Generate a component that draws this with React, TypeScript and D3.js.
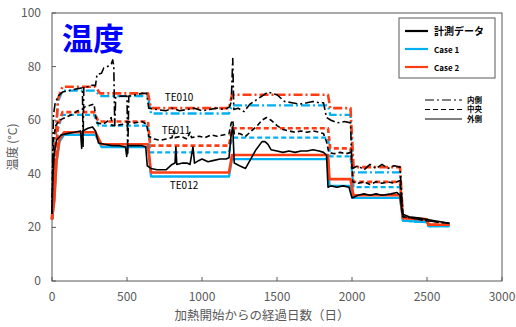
import React, { useEffect, useRef } from 'react';
import * as d3 from 'd3';

type Pt = [number, number];

// 計測データ (black): [day, temp]
const measInner: Pt[] = [[0,25],[5,50],[10,62],[20,66],[40,69],[70,70.5],[110,71],[150,71.5],[195,72],[203,72],[207,50],[212,72.5],[240,72.5],[260,73],[290,73],[300,77],[330,77.5],[345,79.5],[370,80],[395,81],[405,82.5],[412,80],[418,58],[425,68.5],[460,69],[500,69],[505,47],[512,69],[560,69.5],[600,70],[630,70],[645,64.5],[700,64],[760,63.5],[800,64.5],[850,63.5],[900,64],[950,64.5],[1000,63.5],[1050,64],[1100,64.5],[1150,64],[1185,65],[1195,67],[1205,83],[1212,64],[1240,64.5],[1280,63.2],[1320,66],[1360,67.5],[1400,69],[1440,70.5],[1470,70],[1500,69.5],[1550,67],[1600,66.5],[1650,66],[1700,66.5],[1740,67],[1780,66.5],[1810,66.5],[1830,61],[1860,60],[1900,59],[1950,59.5],[1990,59],[2000,42],[2040,43],[2080,41.5],[2120,43.5],[2160,42],[2200,43.5],[2240,42],[2280,43],[2320,42.5],[2340,24],[2400,23.5],[2500,22.5],[2650,21.5]];
const measMiddle: Pt[] = [[0,25],[5,45],[12,54],[25,58],[50,60],[90,61],[130,62],[170,63.5],[200,64],[220,65],[250,65.5],[280,66],[290,62],[300,59],[340,58.5],[380,60],[395,61],[400,58],[430,58],[470,58.5],[500,59.5],[550,59],[600,59.5],[630,58.5],[645,54],[680,53],[720,52.5],[760,53],[800,53.5],[810,56],[820,53.5],[860,54],[900,53],[920,55.5],[930,53.5],[980,54],[1020,53.5],[1060,54.5],[1100,54],[1140,54.5],[1180,55],[1195,59],[1205,60],[1215,55],[1250,55],[1290,54],[1330,56],[1370,58],[1400,60],[1430,61],[1460,60],[1500,58],[1540,56.5],[1580,56],[1620,55.5],[1660,56],[1700,55.5],[1740,56],[1780,55.5],[1810,55],[1830,52],[1845,48],[1880,47.5],[1920,48],[1960,47.5],[1995,48],[2005,37],[2040,36.5],[2080,37],[2120,36],[2160,37],[2200,36.5],[2240,37],[2280,36.5],[2320,37.5],[2340,24],[2400,23.5],[2500,22.5],[2650,21.5]];
const measOuter: Pt[] = [[0,25],[5,38],[15,48],[30,52.5],[60,54.5],[100,55],[150,55.5],[190,56],[198,49.5],[205,56],[240,57],[270,57.5],[290,56],[310,51.5],[350,51],[400,50.5],[450,50.5],[490,50],[498,46.5],[505,50.5],[550,50.5],[600,50.5],[625,50],[635,43],[660,42],[700,41.5],[760,41.5],[800,43.5],[820,44],[826,50],[832,43.5],[870,44],[900,44],[920,43.5],[940,50],[950,44],[980,45],[1000,45.5],[1040,44.5],[1080,45],[1120,45.5],[1160,45.5],[1180,46],[1195,55],[1205,57.5],[1215,44],[1250,43],[1290,42],[1320,45],[1360,49],[1400,52],[1420,52],[1440,51],[1460,49],[1500,48.5],[1540,48],[1580,48.5],[1620,48],[1660,48.5],[1700,48.5],[1740,49],[1780,48.5],[1810,48],[1830,47],[1840,35],[1860,35.5],[1900,35],[1940,35.5],[1980,35],[2000,31],[2040,32],[2080,32.5],[2120,32],[2160,32.5],[2200,32],[2260,32.5],[2300,33],[2320,32],[2335,25],[2380,24],[2450,23.5],[2550,22.5],[2650,21.5]];

// Case 1 (blue)
const case1Inner: Pt[] = [[0,23],[20,50],[40,67],[70,71],[290,71],[320,69],[640,69],[660,62.5],[1180,62.5],[1200,65.5],[1840,65.5],[1855,62],[1990,62],[2010,40.5],[2320,40.5],[2340,22.5],[2500,22],[2510,20.5],[2650,20.5]];
const case1Middle: Pt[] = [[0,23],[20,44],[40,57],[70,62],[280,62],[310,58],[640,58],[655,48],[1180,48],[1200,53.5],[1840,53.5],[1855,46.5],[1990,46.5],[2010,35],[2320,35],[2340,22.5],[2500,22],[2510,20.5],[2650,20.5]];
const case1Outer: Pt[] = [[0,23],[15,30],[30,44],[50,52],[80,54.5],[290,54.5],[330,50],[640,50],[660,39],[1180,39],[1200,45.5],[1840,45.5],[1850,35.5],[1990,35.5],[2010,31],[2320,31],[2340,22.5],[2500,22],[2510,20.5],[2650,20.5]];

// Case 2 (red)
const case2Inner: Pt[] = [[0,23],[20,50],[40,68],[70,72.5],[290,72.5],[320,70],[640,70],[660,64.5],[1180,64.5],[1200,69.5],[1840,69.5],[1855,64.5],[1990,64.5],[2010,42.5],[2320,42.5],[2340,23.5],[2500,23],[2510,21],[2650,21]];
const case2Middle: Pt[] = [[0,23],[20,45],[40,58],[70,63],[280,63],[310,59.5],[640,59.5],[655,50.5],[1180,50.5],[1200,57],[1840,57],[1855,49.5],[1990,49.5],[2010,37],[2320,37],[2340,23.5],[2500,23],[2510,21],[2650,21]];
const case2Outer: Pt[] = [[0,23],[15,30],[30,45],[50,53],[80,55.5],[290,55.5],[330,51],[640,51],[660,40.5],[1180,40.5],[1200,47],[1840,47],[1850,38],[1990,38],[2010,32],[2320,32],[2340,23.5],[2500,23],[2510,21],[2650,21]];

const xTicks = [0, 500, 1000, 1500, 2000, 2500, 3000];
const yTicks = [0, 20, 40, 60, 80, 100];
const posLabels = ['内側', '中央', '外側'];
const caseLabels = ['計測データ', 'Case 1', 'Case 2'];
const sensorLabels = ['TE010', 'TE011', 'TE012'];

const W = 516;
const H = 327;
const FONT = '"Noto Sans CJK JP", "Noto Sans", sans-serif';
const BLUE = '#00b0f0';
const RED = '#ff3d14';
const GRAY = '#595959';
const DASH: { [k: string]: string | null } = { '内側': '9,3,2,3', '中央': '5,3', '外側': null };

export default function App() {
  const ref = useRef<SVGSVGElement>(null);

  useEffect(() => {
    const svg = d3.select(ref.current);
    svg.selectAll('*').remove();

    const x = d3.scaleLinear().domain([0, 3000]).range([52, 502]);
    const y = d3.scaleLinear().domain([0, 100]).range([281, 13]);
    const line = d3.line<Pt>().x(d => x(d[0])).y(d => y(d[1]));

    svg.append('rect').attr('width', W).attr('height', H).attr('fill', 'white');

    // frame
    svg.append('rect')
      .attr('x', x(0)).attr('y', y(100))
      .attr('width', x(3000) - x(0)).attr('height', y(0) - y(100))
      .attr('fill', 'none').attr('stroke', '#595959').attr('stroke-width', 1);

    // ticks
    svg.selectAll('.xt').data(xTicks).enter().append('line')
      .attr('x1', d => x(d)).attr('x2', d => x(d))
      .attr('y1', y(0)).attr('y2', y(0) - 4)
      .attr('stroke', '#595959');
    svg.selectAll('.yt').data(yTicks).enter().append('line')
      .attr('x1', x(0)).attr('x2', x(0) + 4)
      .attr('y1', d => y(d)).attr('y2', d => y(d))
      .attr('stroke', '#595959');

    svg.selectAll('.xl').data(xTicks).enter().append('text')
      .text(d => d)
      .attr('x', d => x(d)).attr('y', y(0) + 20)
      .attr('text-anchor', 'middle')
      .attr('font-family', FONT).attr('font-size', 12).attr('fill', GRAY);
    svg.selectAll('.yl').data(yTicks).enter().append('text')
      .text(d => d)
      .attr('x', x(0) - 11).attr('y', d => y(d) + 4)
      .attr('text-anchor', 'end')
      .attr('font-family', FONT).attr('font-size', 12).attr('fill', GRAY);

    svg.append('text')
      .text('加熱開始からの経過日数（日）')
      .attr('x', 262).attr('y', 320)
      .attr('text-anchor', 'middle')
      .attr('font-family', FONT).attr('font-size', 12.5).attr('fill', GRAY);
    svg.append('text')
      .text('温度 (°C)')
      .attr('transform', 'translate(17,147) rotate(-90)')
      .attr('text-anchor', 'middle')
      .attr('font-family', FONT).attr('font-size', 12).attr('fill', GRAY);

    // series
    const series = [
      { data: case1Inner, color: BLUE, w: 2.3, pos: '内側' },
      { data: case1Middle, color: BLUE, w: 2.3, pos: '中央' },
      { data: case1Outer, color: BLUE, w: 2.3, pos: '外側' },
      { data: case2Inner, color: RED, w: 2.6, pos: '内側' },
      { data: case2Middle, color: RED, w: 2.6, pos: '中央' },
      { data: case2Outer, color: RED, w: 2.6, pos: '外側' },
      { data: measInner, color: 'black', w: 1.6, pos: '内側' },
      { data: measMiddle, color: 'black', w: 1.6, pos: '中央' },
      { data: measOuter, color: 'black', w: 1.6, pos: '外側' },
    ];
    series.forEach(s => {
      const p = svg.append('path')
        .attr('d', line(s.data))
        .attr('fill', 'none')
        .attr('stroke', s.color)
        .attr('stroke-width', s.w)
        .attr('stroke-linejoin', 'round');
      if (DASH[s.pos]) p.attr('stroke-dasharray', DASH[s.pos] as string);
    });

    // sensor labels
    const sensorPos = [[179, 101], [176, 134], [184, 189]];
    sensorLabels.forEach((t, i) => {
      svg.append('text').text(t)
        .attr('x', sensorPos[i][0]).attr('y', sensorPos[i][1])
        .attr('text-anchor', 'middle')
        .attr('font-family', FONT).attr('font-size', 10).attr('fill', 'black');
    });

    // title
    svg.append('text').text('温度')
      .attr('x', 62).attr('y', 50)
      .attr('font-family', FONT).attr('font-size', 31).attr('font-weight', 'bold')
      .attr('fill', '#0000ff');

    // legend 1
    svg.append('rect')
      .attr('x', 399).attr('y', 18).attr('width', 96).attr('height', 60)
      .attr('fill', 'white').attr('stroke', '#595959');
    const legColors = ['black', BLUE, RED];
    caseLabels.forEach((t, i) => {
      const ly = 31 + i * 18;
      svg.append('line')
        .attr('x1', 405).attr('x2', 428).attr('y1', ly).attr('y2', ly)
        .attr('stroke', legColors[i]).attr('stroke-width', 2.2);
      svg.append('text').text(t)
        .attr('x', 434).attr('y', ly + 3.5)
        .attr('font-family', FONT).attr('font-size', i === 0 ? 10 : 8)
        .attr('font-weight', 'bold').attr('fill', 'black');
    });

    // legend 2
    const legY = [100, 109.5, 119];
    posLabels.forEach((t, i) => {
      const l = svg.append('line')
        .attr('x1', 425).attr('x2', 462).attr('y1', legY[i]).attr('y2', legY[i])
        .attr('stroke', 'black').attr('stroke-width', 1);
      if (DASH[t]) l.attr('stroke-dasharray', DASH[t] as string);
      svg.append('text').text(t)
        .attr('x', 467).attr('y', legY[i] + 2.7)
        .attr('font-family', FONT).attr('font-size', 7.5)
        .attr('font-weight', 'bold').attr('fill', 'black');
    });
  }, []);

  return (
    <svg ref={ref} width={W} height={H} style={{ position: 'absolute', left: 0, top: 0 }} />
  );
}
